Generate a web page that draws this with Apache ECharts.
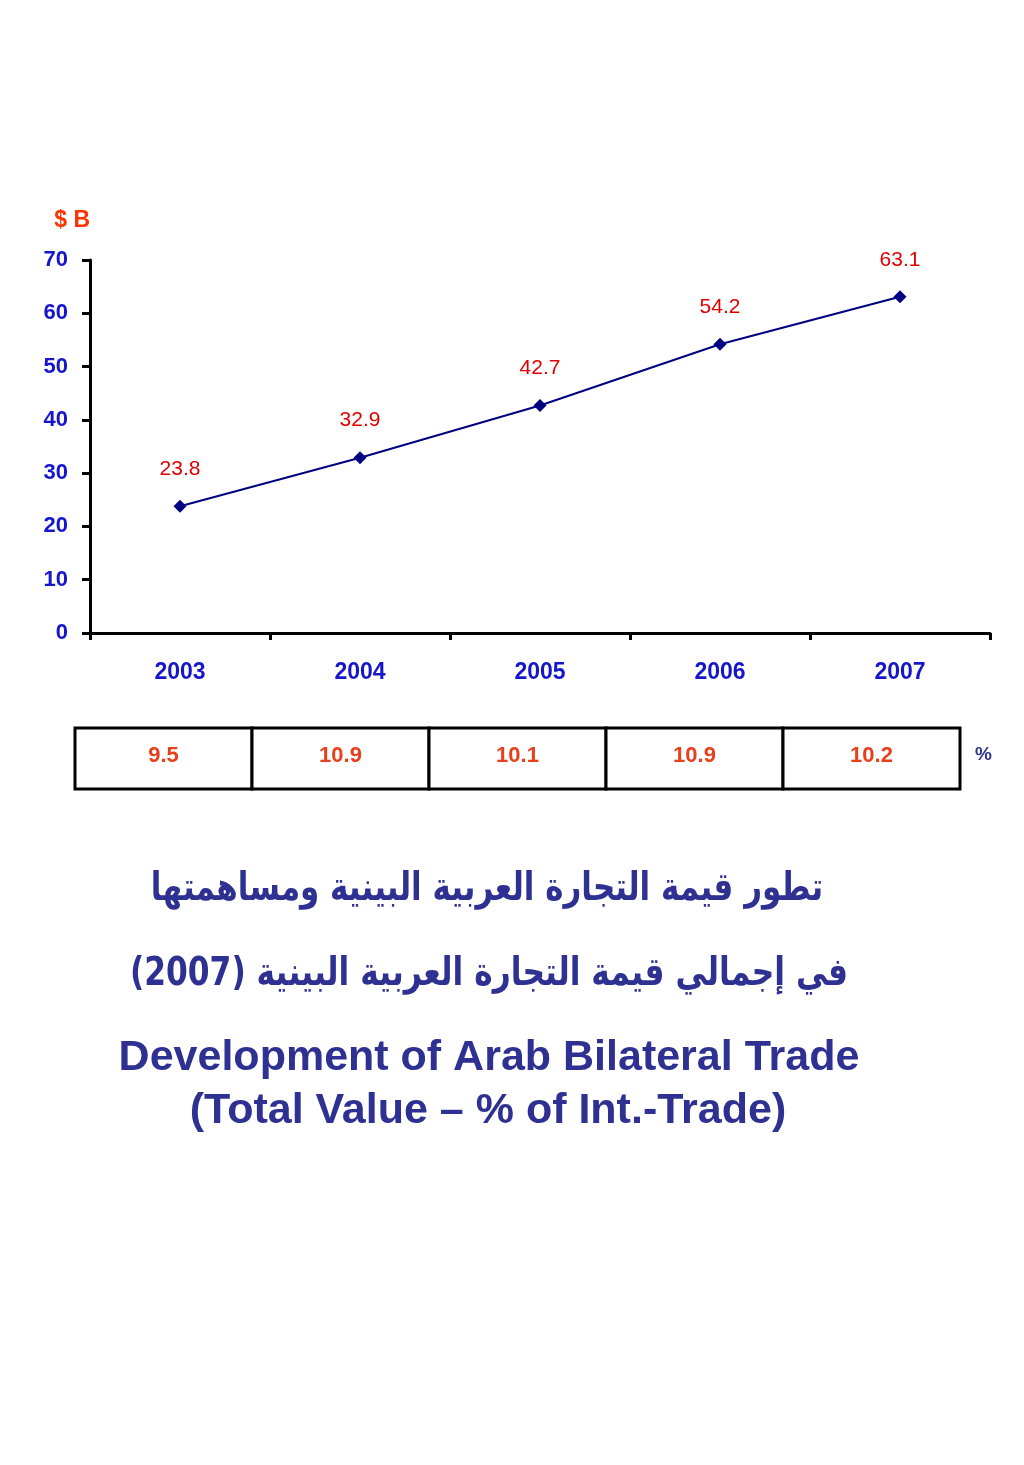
<!DOCTYPE html>
<html>
<head>
<meta charset="utf-8">
<script src="https://cdn.jsdelivr.net/npm/echarts@6/dist/echarts.min.js"></script>
<style>
html,body{margin:0;padding:0;background:#fff;}
#chart{width:1024px;height:1465px;}
</style>
</head>
<body>
<div id="chart"></div>
<script>
const years = ['2003', '2004', '2005', '2006', '2007'];
const tradeValues = [23.8, 32.9, 42.7, 54.2, 63.1];
const sharePercent = [9.5, 10.9, 10.1, 10.9, 10.2];
const yTicks = { min: 0, max: 70, interval: 10 };

const titleAr1 = '\u202Bتطور قيمة التجارة العربية البينية ومساهمتها\u202C';
const titleAr2 = '\u202Bفي إجمالي قيمة التجارة العربية البينية (2007)\u202C';
const titleEn1 = 'Development of Arab Bilateral Trade';
const titleEn2 = '(Total Value \u2013 % of Int.-Trade)';

const chart = echarts.init(document.getElementById('chart'));
const FONT = 'Liberation Sans, Arial, sans-serif';
const TITLE_COLOR = '#2E3192';

chart.setOption({
  backgroundColor: '#fff',
  animation: false,
  grid: [
    { left: 90, top: 260, width: 900, height: 373 },
    { left: 75, top: 728, width: 885, height: 61 }
  ],
  xAxis: [
    {
      type: 'category', gridIndex: 0, data: years, boundaryGap: true,
      axisLine: { lineStyle: { color: '#000', width: 3 } },
      axisTick: { show: true, length: 7, lineStyle: { color: '#000', width: 3 } },
      axisLabel: { color: '#1515CC', fontWeight: 'bold', fontSize: 23, fontFamily: FONT, margin: 28 }
    },
    {
      type: 'category', gridIndex: 1, data: years, boundaryGap: true, show: false
    }
  ],
  yAxis: [
    {
      type: 'value', gridIndex: 0, min: yTicks.min, max: yTicks.max, interval: yTicks.interval,
      name: '$ B', nameLocation: 'end', nameGap: 28,
      nameTextStyle: { color: '#FF3300', fontWeight: 'bold', fontSize: 23, fontFamily: FONT, align: 'right', padding: [0, 0, 0, 0] },
      axisLine: { show: true, lineStyle: { color: '#000', width: 3 } },
      axisTick: { show: true, length: 8, lineStyle: { color: '#000', width: 3 } },
      splitLine: { show: false },
      axisLabel: { color: '#1515CC', fontWeight: 'bold', fontSize: 22, fontFamily: FONT, margin: 22 }
    },
    {
      type: 'value', gridIndex: 1, min: 0, max: 1, show: false
    }
  ],
  series: [
    {
      type: 'line', xAxisIndex: 0, yAxisIndex: 0, data: tradeValues,
      symbol: 'diamond', symbolSize: 13,
      lineStyle: { color: '#000080', width: 2 },
      itemStyle: { color: '#000080' },
      label: { show: true, position: 'top', distance: 20, color: '#E00000', fontSize: 21, fontFamily: FONT,
        formatter: p => p.value.toFixed(1) }
    },
    {
      type: 'custom', xAxisIndex: 1, yAxisIndex: 1,
      data: sharePercent.map((v, i) => [i, v]),
      renderItem: function (params, api) {
        const i = api.value(0);
        const c = api.coord([i, 0.5]);
        const w = api.size([1, 0])[0];
        const cs = params.coordSys;
        return {
          type: 'group',
          children: [
            { type: 'rect', shape: { x: c[0] - w / 2, y: cs.y, width: w, height: cs.height },
              style: { fill: '#fff', stroke: '#000', lineWidth: 3 } },
            { type: 'text', x: c[0], y: c[1] - 3,
              style: { text: api.value(1).toFixed(1), fill: '#E8401C', font: 'bold 22px ' + FONT,
                align: 'center', verticalAlign: 'middle' } }
          ]
        };
      }
    }
  ],
  graphic: [
    { type: 'text', left: 975, top: 745, style: { text: '%', fill: TITLE_COLOR, font: 'bold 19px ' + FONT } },
    { type: 'text', x: 487, y: 890, scaleX: 0.86, scaleY: 1.08, style: { text: titleAr1, fill: TITLE_COLOR, font: 'bold 36px DejaVu Sans, sans-serif', align: 'center', verticalAlign: 'middle' } },
    { type: 'text', x: 489, y: 975, scaleX: 0.87, scaleY: 1.08, style: { text: titleAr2, fill: TITLE_COLOR, font: 'bold 36px DejaVu Sans, sans-serif', align: 'center', verticalAlign: 'middle' } },
    { type: 'text', x: 489, y: 1058, style: { text: titleEn1, fill: TITLE_COLOR, font: 'bold 43px ' + FONT, align: 'center', verticalAlign: 'middle' } },
    { type: 'text', x: 488, y: 1111, style: { text: titleEn2, fill: TITLE_COLOR, font: 'bold 43px ' + FONT, align: 'center', verticalAlign: 'middle' } }
  ]
});
</script>
</body>
</html>
